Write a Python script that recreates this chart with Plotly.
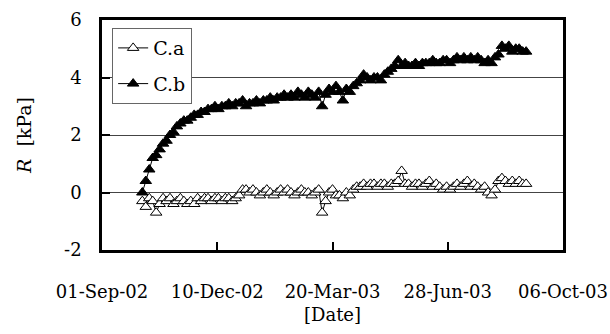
import pandas as pd
import plotly.graph_objects as go

# Readings every 3 days from 06-Oct-02
dates = pd.date_range("2002-10-06", periods=112, freq="3D")

ca_values = [
    -0.3, -0.5, -0.2, -0.3, -0.7, -0.4, -0.2, -0.3, -0.2, -0.4,
    -0.3, -0.2, -0.3, -0.4, -0.3, -0.4, -0.2, -0.3, -0.2, -0.2,
    -0.3, -0.2, -0.2, -0.3, -0.2, -0.2, -0.3, -0.2, -0.1, 0.1,
    0.1, 0.0, 0.1, 0.0, -0.1, 0.0, 0.1, 0.0, -0.1, 0.0,
    0.1, 0.0, 0.1, 0.0, -0.1, 0.0, 0.1, 0.0, 0.0, -0.1,
    0.0, 0.1, -0.7, -0.3, 0.0, 0.1, -0.1, -0.1, -0.2, 0.0,
    -0.1, 0.1, 0.2, 0.2, 0.3, 0.2, 0.3, 0.3, 0.2, 0.3,
    0.3, 0.2, 0.3, 0.3, 0.4, 0.75, 0.3, 0.3, 0.2, 0.3,
    0.3, 0.2, 0.3, 0.4, 0.2, 0.3, 0.2, 0.1, 0.2, 0.1,
    0.2, 0.3, 0.2, 0.3, 0.4, 0.2, 0.3, 0.2, 0.1, 0.2,
    0.0, -0.1, 0.1, 0.4, 0.5, 0.4, 0.3, 0.4, 0.3, 0.4,
    0.3, 0.3,
]

cb_values = [
    0.0, 0.4, 0.8, 1.2, 1.3, 1.5, 1.7, 1.8, 2.0, 2.1,
    2.3, 2.4, 2.5, 2.5, 2.6, 2.7, 2.7, 2.8, 2.8, 2.9,
    2.9, 3.0, 2.9, 3.0, 3.0, 3.1, 3.0, 3.1, 3.1, 3.2,
    3.0, 3.1, 3.1, 3.2, 3.1, 3.2, 3.2, 3.3, 3.2, 3.3,
    3.3, 3.4, 3.3, 3.4, 3.3, 3.5, 3.4, 3.3, 3.5, 3.4,
    3.3, 3.5, 3.0, 3.4, 3.6, 3.5, 3.7, 3.5, 3.2, 3.6,
    3.5, 3.7, 3.8, 3.9, 4.1, 4.0, 3.9, 4.0, 4.0, 3.9,
    4.1, 4.2, 4.3, 4.4, 4.6, 4.4, 4.5, 4.4, 4.4, 4.5,
    4.4, 4.5, 4.5, 4.5, 4.6, 4.5, 4.5, 4.6, 4.6, 4.5,
    4.6, 4.7, 4.6, 4.7, 4.6, 4.7, 4.6, 4.7, 4.6, 4.5,
    4.6, 4.5, 4.7, 4.8, 5.1, 5.0, 5.1, 4.9, 5.0, 5.0,
    4.9, 4.9,
]

x_ticks = ["2002-09-01", "2002-12-10", "2003-03-20", "2003-06-28", "2003-10-06"]
y_ticks = [-2, 0, 2, 4, 6]
y_tick_text = ["-2", "0", "2", "4", "6"]

FONT = "DejaVu Serif"

fig = go.Figure()
fig.add_trace(go.Scatter(
    x=dates, y=ca_values, name="C.a", mode="lines+markers",
    legendgroup="a",
    line=dict(color="black", width=1),
    marker=dict(symbol="triangle-up", size=10, color="white",
                line=dict(color="black", width=1)),
))
fig.add_trace(go.Scatter(
    x=dates, y=cb_values, name="C.b", mode="lines+markers",
    legendgroup="b",
    line=dict(color="black", width=1),
    marker=dict(symbol="triangle-up", size=10, color="black",
                line=dict(color="black", width=1)),
))

fig.update_layout(
    width=610, height=334,
    margin=dict(l=102, r=47, t=20, b=84),
    paper_bgcolor="white", plot_bgcolor="white",
    font=dict(family=FONT, size=18, color="black"),
    legend=dict(
        x=0.022, y=0.965, xanchor="left", yanchor="top",
        bgcolor="white", bordercolor="#666", borderwidth=1,
        font=dict(family=FONT, size=19, color="black"),
        traceorder="grouped", tracegroupgap=8, itemwidth=30,
    ),
    showlegend=True,
)

fig.update_xaxes(
    type="date",
    range=[x_ticks[0], x_ticks[-1]],
    tickvals=x_ticks,
    tickformat="%d-%b-%y",
    ticks="inside", ticklen=8, tickwidth=2, tickcolor="black",
    ticklabelstandoff=24,
    showline=True, linecolor="black", linewidth=2.5, mirror=True,
    showgrid=False, zeroline=False, automargin=False,
    title=dict(text="[Date]", standoff=8, font=dict(family=FONT, size=18)),
)
fig.update_yaxes(
    range=[-2, 6],
    tickvals=y_ticks, ticktext=y_tick_text,
    ticks="inside", ticklen=8, tickwidth=2, tickcolor="black",
    ticklabelstandoff=14,
    showline=True, linecolor="black", linewidth=2.5, mirror=True,
    showgrid=True, gridcolor="#444", gridwidth=1,
    zeroline=True, zerolinecolor="#444", zerolinewidth=1, automargin=False,
    title=dict(text="<i>R</i>  [kPa]", standoff=28, font=dict(family=FONT, size=19)),
)

fig.write_html("out.html")
